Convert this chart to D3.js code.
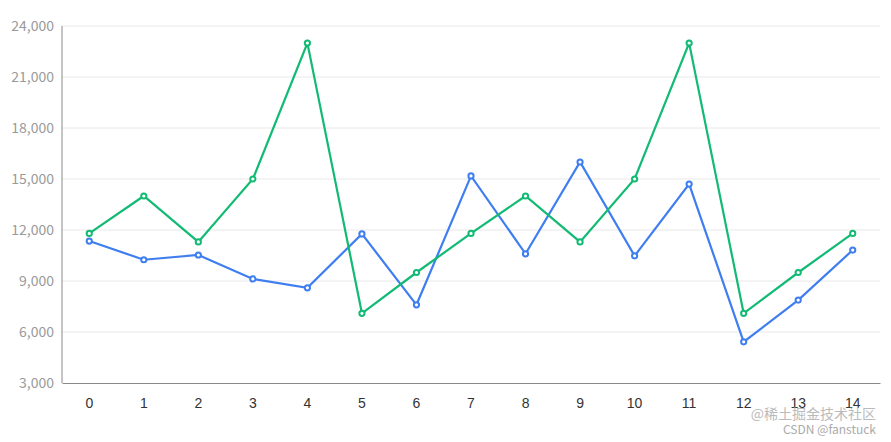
<!DOCTYPE html>
<html><head><meta charset="utf-8">
<script src="https://cdn.jsdelivr.net/npm/d3@7"></script>
<style>body{margin:0;background:#fff;font-family:"Microsoft YaHei","Noto Sans CJK SC",sans-serif;}</style>
</head><body><div id="container"></div>
<script>
var categories = d3.range(0, 15);
var greenValues = [11800, 14000, 11300, 15000, 23000, 7100, 9500, 11800, 14000, 11300, 15000, 23000, 7100, 9500, 11800];
var blueValues = [11350, 10250, 10530, 9120, 8600, 11770, 7600, 15180, 10600, 16000, 10480, 14700, 5420, 7880, 10820];
var yTicks = [3000, 6000, 9000, 12000, 15000, 18000, 21000, 24000];

var margin = {top: 26, right: 11, bottom: 59, left: 62};
var width = 891, height = 442;
var w = width - margin.left - margin.right, h = height - margin.top - margin.bottom;

var svg = d3.select("#container").append("svg").attr("width", width).attr("height", height);
var g = svg.append("g").attr("transform", "translate(" + margin.left + "," + margin.top + ")");

var x = d3.scaleBand().domain(categories).range([0, w]);
var y = d3.scaleLinear().domain([3000, 24000]).range([h, 0]);

// grid
g.selectAll(".grid").data(yTicks.slice(1)).enter().append("line")
  .attr("x1", 0).attr("x2", w).attr("y1", d => y(d)).attr("y2", d => y(d))
  .attr("stroke", "#e8e8e8");
// y axis line
g.append("line").attr("x1", 0).attr("x2", 0).attr("y1", 0).attr("y2", h).attr("stroke", "#8a8a8a");
g.selectAll(".ylab").data(yTicks).enter().append("text")
  .attr("x", -8).attr("y", d => y(d)).attr("dy", "0.35em").attr("text-anchor", "end")
  .attr("fill", "#9a9a9a").attr("font-size", 14).text(d3.format(","));

var xAxis = g.append("g").attr("transform", "translate(0," + h + ")")
  .call(d3.axisBottom(x).tickSize(0).tickPadding(15));
xAxis.select(".domain").attr("stroke", "#8a8a8a");
xAxis.selectAll("text").attr("fill", "#333").attr("font-size", 14).attr("font-family", "inherit");

var cx = d => x(d) + x.bandwidth() / 2;
function series(vals, color) {
  var line = d3.line().x((d, i) => cx(categories[i])).y(d => y(d));
  g.append("path").datum(vals).attr("d", line).attr("fill", "none").attr("stroke", color).attr("stroke-width", 2.2);
  g.selectAll(null).data(vals).enter().append("circle")
    .attr("cx", (d, i) => cx(categories[i])).attr("cy", d => y(d)).attr("r", 2.6)
    .attr("fill", "#fff").attr("stroke", color).attr("stroke-width", 2);
}
series(blueValues, "#3f7ef0");
series(greenValues, "#12ba74");

svg.append("text").attr("x", 876).attr("y", 419).attr("text-anchor", "end").attr("font-size", 14)
  .attr("fill", "#bbb").text("@稀土掘金技术社区");
svg.append("text").attr("x", 876).attr("y", 434).attr("text-anchor", "end").attr("font-size", 12)
  .attr("fill", "#aaa").text("CSDN @fanstuck");
</script></body></html>
